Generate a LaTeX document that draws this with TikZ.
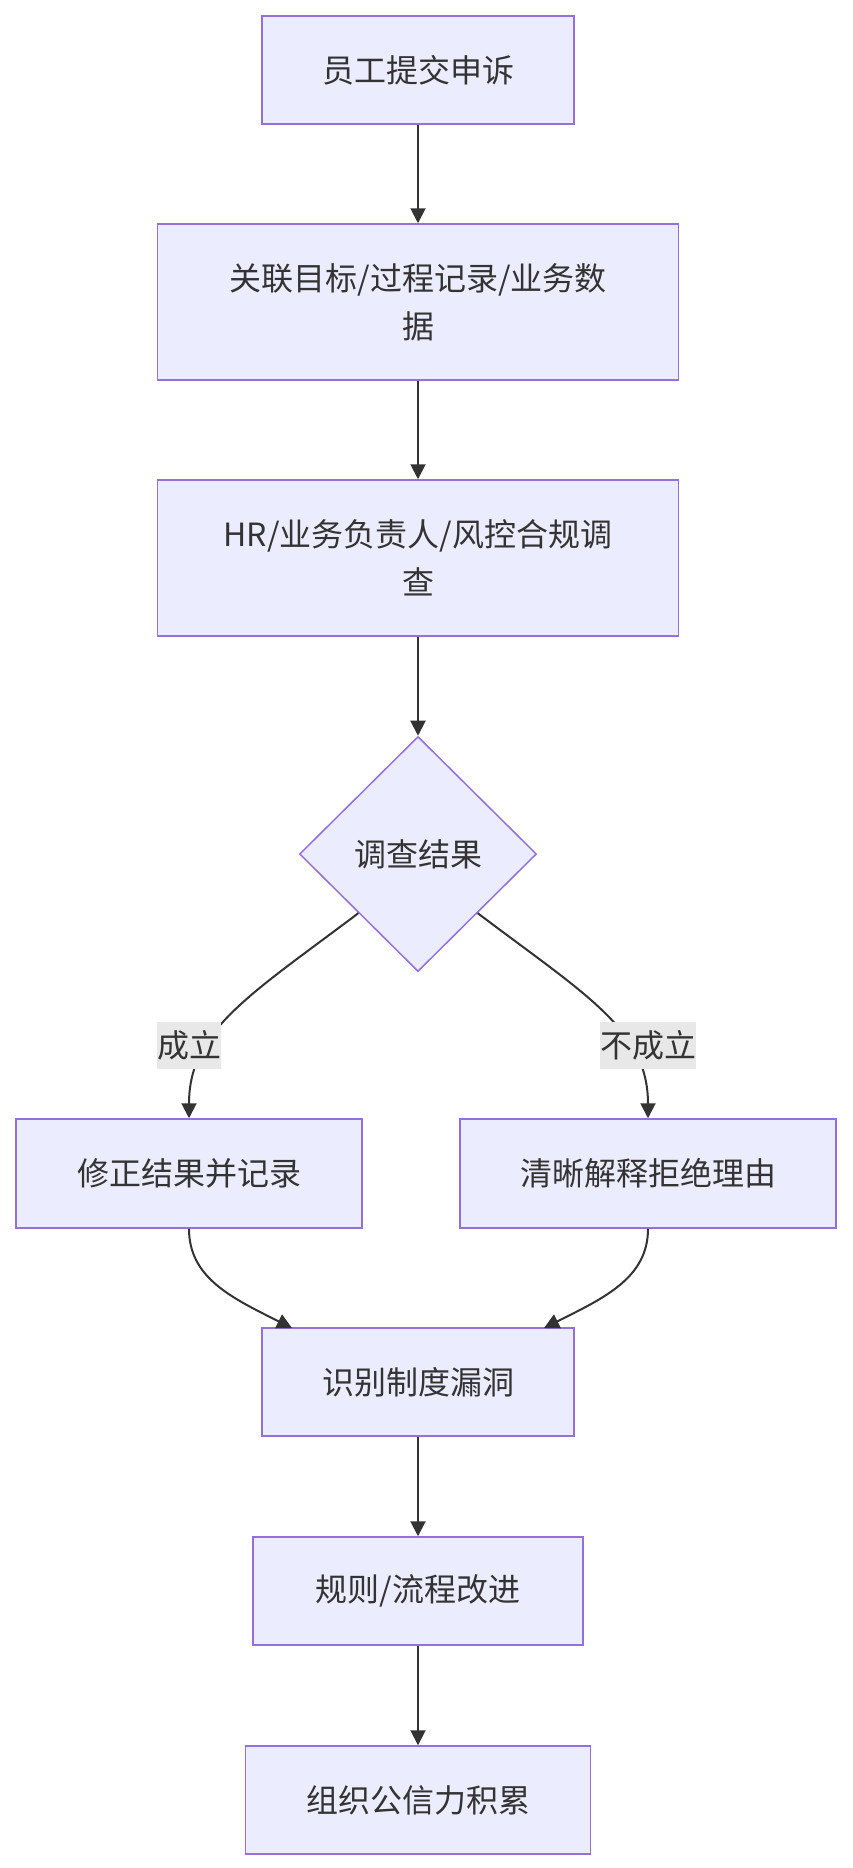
\documentclass[tikz,border=0pt]{standalone}
\usepackage{fontspec}
\setmainfont{Noto Sans CJK SC}
\usetikzlibrary{shapes.geometric,arrows.meta}
\definecolor{boxfill}{HTML}{ECECFF}
\definecolor{boxline}{HTML}{9370DB}
\definecolor{ink}{HTML}{333333}
\definecolor{labbg}{HTML}{E8E8E8}
\begin{document}
\begin{tikzpicture}[x=1pt,y=-1pt,
  font=\fontsize{32pt}{48pt}\selectfont,
  box/.style={draw=boxline,fill=boxfill,line width=1.5pt,text=ink,inner sep=0pt,align=center},
  dia/.style={diamond,draw=boxline,fill=boxfill,line width=1.5pt,text=ink,inner sep=0pt,minimum width=237pt,minimum height=235pt},
  arr/.style={draw=ink,line width=2pt,-{Triangle[length=15pt,width=15pt]}},
  lab/.style={fill=labbg,text=ink,inner xsep=0pt,inner ysep=0pt,minimum height=47pt}]
\useasboundingbox[fill=white] (0,0) rectangle (852,1868);
\node[box,minimum width=312pt,minimum height=108pt] (n1) at (418,70) {员工提交申诉};
\node[box,minimum width=521pt,minimum height=156pt] (n2) at (418,302) {关联目标/过程记录/业务数\\据};
\node[box,minimum width=521pt,minimum height=156pt] (n3) at (418,558) {HR/业务负责人/风控合规调\\查};
\node[dia] (d) at (418,854) {调查结果};
\node[box,minimum width=346pt,minimum height=109pt] (L) at (189,1173.5) {修正结果并记录};
\node[box,minimum width=376pt,minimum height=109pt] (R) at (648,1173.5) {清晰解释拒绝理由};
\node[box,minimum width=312pt,minimum height=108pt] (m1) at (418,1382) {识别制度漏洞};
\node[box,minimum width=330pt,minimum height=108pt] (m2) at (418,1591) {规则/流程改进};
\node[box,minimum width=345pt,minimum height=108pt] (m3) at (418,1800) {组织公信力积累};
\coordinate (m1a) at (292,1328);
\coordinate (m1b) at (544,1328);
\draw[arr] (n1) -- (n2);
\draw[arr] (n2) -- (n3);
\draw[arr] (n3) -- (d);
\draw[arr] (d.south west) .. controls (250,995) and (189,1030) .. (L.north);
\draw[arr] (d.south east) .. controls (586,995) and (648,1030) .. (R.north);
\node[lab] (l1) at (189,1045.5) {成立};
\node[lab] (l2) at (648,1045.5) {不成立};
\draw[arr] (L.south) .. controls (189,1278) and (232,1298) .. (m1a);
\draw[arr] (R.south) .. controls (648,1278) and (604,1298) .. (m1b);
\draw[arr] (m1) -- (m2);
\draw[arr] (m2) -- (m3);
\end{tikzpicture}
\end{document}
